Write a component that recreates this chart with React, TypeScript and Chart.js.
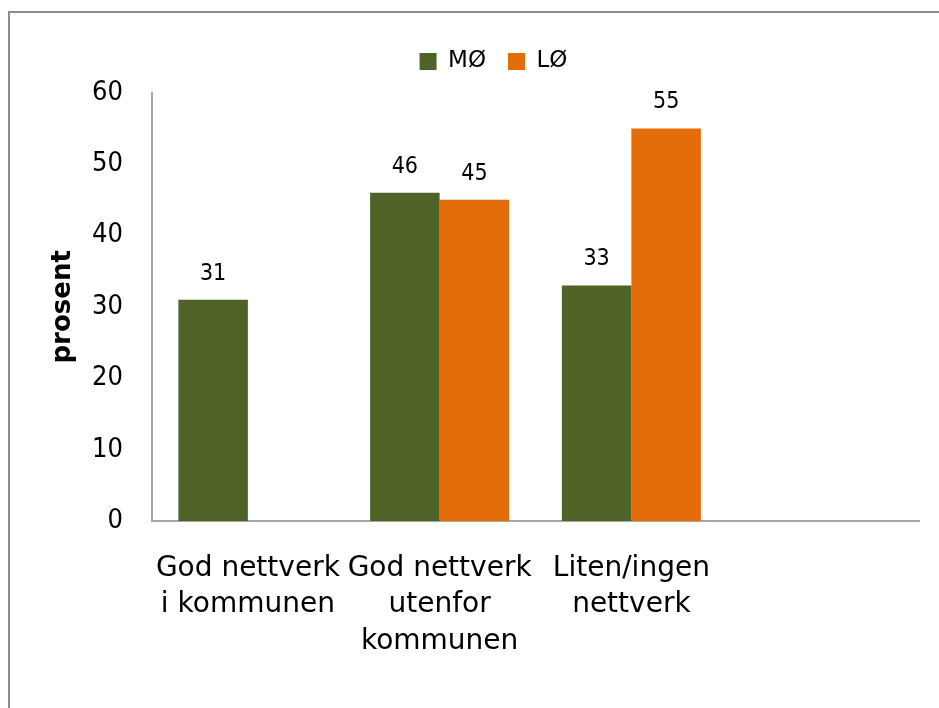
import React, { useEffect, useRef } from "react";
import { Chart, registerables } from "chart.js";

Chart.register(...registerables);

const categories: (string | string[])[] = [
  ["God nettverk", "i kommunen"],
  ["God nettverk", "utenfor", "kommunen"],
  ["Liten/ingen", "nettverk"],
  "",
];
const seriesNames = ["MØ", "LØ"];
const moValues: (number | null)[] = [31, 46, 33, null];
const loValues: (number | null)[] = [null, 45, 55, null];
const colors = ["#4F6228", "#E46C0A"];
const yTicks = [0, 10, 20, 30, 40, 50, 60];
const yTitle = "prosent";

const COND = "'DejaVu Sans Condensed', 'DejaVu Sans', sans-serif";
const REG = "'DejaVu Sans', sans-serif";

const valueLabels = {
  id: "valueLabels",
  afterDatasetsDraw(chart: any) {
    const ctx = chart.ctx;
    ctx.save();
    ctx.font = `23px ${COND}`;
    ctx.fillStyle = "#000";
    ctx.textAlign = "center";
    ctx.textBaseline = "middle";
    chart.data.datasets.forEach((ds: any, i: number) => {
      const meta = chart.getDatasetMeta(i);
      meta.data.forEach((el: any, j: number) => {
        const v = ds.data[j];
        if (v === null || v === undefined) return;
        ctx.fillText(String(v), el.x, el.y - 26);
      });
    });
    ctx.restore();
  },
};

export default function App() {
  const ref = useRef<HTMLCanvasElement | null>(null);
  useEffect(() => {
    if (!ref.current) return;
    const chart = new Chart(ref.current, {
      type: "bar",
      data: {
        labels: categories,
        datasets: [
          { label: seriesNames[0], data: moValues, backgroundColor: colors[0], categoryPercentage: 0.725, barPercentage: 1 },
          { label: seriesNames[1], data: loValues, backgroundColor: colors[1], categoryPercentage: 0.725, barPercentage: 1 },
        ],
      },
      options: {
        animation: false,
        responsive: false,
        maintainAspectRatio: false,
        layout: { padding: { left: 68, right: 20, top: 28, bottom: 0 } },
        plugins: {
          tooltip: { enabled: false },
          title: {
            display: true,
            text: " ",
            weight: 500,
            font: { size: 1 },
            padding: { top: 0, bottom: 8.5 },
          },
          legend: {
            position: "top",
            labels: {
              boxWidth: 17,
              boxHeight: 17,
              padding: 22,
              color: "#000",
              font: { family: REG, size: 23 },
            },
          },
        },
        scales: {
          x: {
            grid: { display: false, drawTicks: false },
            border: { color: "#a6a6a6", width: 2 },
            ticks: {
              color: "#000",
              padding: 29,
              maxRotation: 0,
              autoSkip: false,
              font: { family: REG, size: 28, lineHeight: 1.31 },
            },
            afterFit(axis: any) {
              axis.height = 187;
            },
          },
          y: {
            min: 0,
            max: 60,
            grid: { display: false, drawTicks: false },
            border: { color: "#a6a6a6", width: 2 },
            afterBuildTicks(axis: any) {
              axis.ticks = yTicks.map((v) => ({ value: v }));
            },
            ticks: {
              color: "#000",
              padding: 29,
              font: { family: COND, size: 27 },
            },
            title: {
              display: true,
              text: yTitle,
              color: "#000",
              padding: { top: -20, bottom: 0 },
              font: { family: REG, size: 26, weight: "bold" },
            },
            afterFit(axis: any) {
              axis.width = 84;
            },
          },
        },
      },
      plugins: [valueLabels],
    });
    return () => chart.destroy();
  }, []);

  return (
    <div style={{ position: "fixed", left: 0, top: 0, width: 939, height: 708, overflow: "hidden", background: "#fff" }}>
      <div
        style={{
          position: "absolute",
          left: 8,
          top: 11,
          width: 2000,
          height: 2000,
          borderTop: "2px solid #8c8c8c",
          borderLeft: "2px solid #8c8c8c",
        }}
      />
      <canvas ref={ref} width={939} height={708} style={{ position: "absolute", left: 0, top: 0, width: 939, height: 708 }} />
    </div>
  );
}
